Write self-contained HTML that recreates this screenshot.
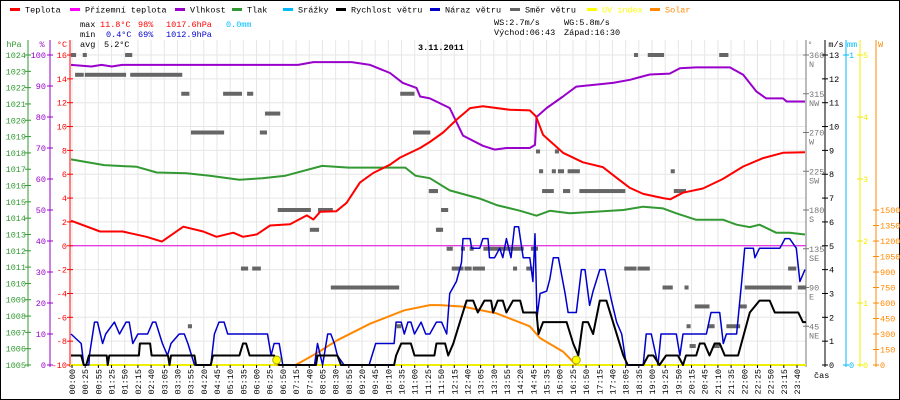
<!DOCTYPE html>
<html><head><meta charset="utf-8">
<style>
body{margin:0;background:#fff}
#wrap{position:relative;width:900px;height:400px;overflow:hidden;background:#fff}
svg{position:absolute;left:0;top:0}
text{font-family:"Liberation Mono","DejaVu Sans Mono",monospace;font-size:8.5px}
</style></head>
<body>
<div id="wrap">
<svg id="chart" width="900" height="400"></svg>
</div>
<script>
// ---- data (t = minutes since midnight) ----
const timeLabels=['00:00','00:25','00:55','01:25','01:50','02:15','02:40','03:05','03:30','03:55','04:20','04:45','05:10','05:35','06:00','06:25','06:50','07:15','07:40','08:05','08:30','08:55','09:20','09:45','10:10','10:35','11:00','11:25','11:50','12:15','12:40','13:05','13:30','13:55','14:20','14:45','15:35','16:00','16:25','16:50','17:15','17:40','18:05','18:35','19:00','19:25','19:50','20:15','20:45','21:10','21:35','22:00','22:25','22:50','23:15','23:40'];
const tempT=[0,57,101,148,178,220,259,285,318,337,364,390,429,462,475,488,520,540,566,592,625,645,684,703,729,756,782,807,860,899,911,925,964,1003,1042,1069,1095,1121,1160,1174,1199,1238,1277,1317,1356,1395,1438];
const tempV=[2.1,1.2,1.2,0.75,0.35,1.6,1.2,0.75,1.1,0.75,0.95,1.7,1.8,2.55,2.2,2.85,2.9,3.6,5.3,6.1,6.8,7.4,8.2,8.7,9.5,10.6,11.55,11.7,11.4,11.35,10.85,9.3,7.8,7.0,6.6,5.7,4.85,4.35,4.0,3.9,4.45,4.8,5.6,6.65,7.35,7.8,7.85];
const humT=[0,40,60,80,100,445,475,550,586,625,650,677,684,703,742,768,807,830,853,899,909,912,932,964,990,1062,1095,1134,1173,1193,1225,1291,1317,1343,1362,1395,1402,1438];
const humV=[96.8,96.3,96.8,96.3,96.8,96.8,97.7,97.7,96.8,94.2,91,89.4,86.6,86,82.9,74,70.7,69.5,70,70,71,80,82.9,86.6,89.8,91,92,93.7,94,95.7,96,96,93.6,88.2,86,86,85,85];
const presT=[0,65,129,168,226,272,330,375,420,492,544,596,655,675,703,742,801,834,880,912,938,977,1030,1082,1121,1160,1186,1225,1278,1304,1330,1349,1382,1408,1438];
const presV=[1017.6,1017.25,1017.15,1016.8,1016.75,1016.6,1016.35,1016.45,1016.6,1017.2,1017.1,1017.1,1017.1,1016.6,1016.45,1015.7,1015.2,1014.8,1014.45,1014.15,1014.45,1014.3,1014.4,1014.5,1014.7,1014.6,1014.3,1013.9,1013.9,1013.6,1013.45,1013.6,1013.1,1013.1,1013.0];
const windT=[0,20,25,30,35,70,72,75,133,135,155,158,190,193,196,242,245,274,278,330,337,343,350,398,408,480,483,522,529,633,637,647,666,673,712,716,733,739,749,762,775,788,797,810,823,827,836,846,853,866,880,886,912,916,925,971,984,994,1003,1013,1023,1036,1049,1062,1082,1091,1121,1131,1141,1153,1166,1189,1199,1205,1225,1232,1241,1251,1261,1271,1281,1307,1330,1349,1369,1379,1425,1434,1440];
const windV=[0.4,0.4,0,0,0.4,0.4,0,0.4,0.4,0.9,0.9,0.4,0.4,0,0.4,0.4,0,0,0.4,0.4,0.9,0.9,0.4,0.4,0,0,0.4,0.4,0,0,0.4,0.9,0.9,0.4,0.4,0.9,0.9,0.4,0.9,1.8,2.7,2.7,2.2,2.7,2.7,2.2,2.7,2.7,2.2,2.7,2.7,2.2,2.2,1.3,1.8,1.8,0.9,0.4,1.8,1.8,1.3,2.7,2.7,1.8,0.4,0,0,0.4,0.4,0,0.4,0.4,0,0.4,0.4,0.9,0.9,0.4,0.9,0.9,0.4,0.4,2.2,2.7,2.7,2.2,2.2,1.8,1.8];
const gustT=[0,20,25,35,36,46,52,62,68,85,95,108,114,121,131,150,160,166,179,189,196,212,222,229,242,274,281,290,300,307,385,392,398,408,415,477,483,493,503,509,516,522,535,584,597,633,637,647,653,660,666,673,686,695,703,716,726,736,742,755,765,768,782,785,801,807,817,820,830,840,846,853,862,869,877,886,899,905,909,913,919,932,938,945,955,968,974,990,1000,1007,1016,1023,1036,1046,1059,1069,1079,1088,1121,1127,1137,1150,1156,1186,1193,1199,1245,1254,1271,1278,1284,1304,1314,1320,1337,1340,1349,1389,1399,1408,1421,1428,1438];
const gustV=[1.3,0.9,0,0,0.4,1.8,1.8,0.9,1.3,1.8,1.3,1.8,1.8,0.9,1.3,1.3,1.8,1.8,0.9,0.4,0.9,1.3,1.3,0.9,0,0,1.3,1.8,1.8,1.3,1.3,0.4,0.9,0.9,0,0,0.9,0,1.3,1.3,0.9,0.4,0,0,0.9,0.9,1.8,1.8,1.3,1.8,1.8,1.3,1.8,1.3,1.3,1.8,1.8,1.3,3.0,3.5,4.3,5.3,5.3,4.9,4.9,5.3,5.3,4.5,4.5,4.9,4.5,5.3,4.5,5.8,5.8,4.5,4.5,3.5,5.5,2.0,3.0,3.1,3.6,4.5,4.5,3.0,2.2,2.2,4.0,4.0,2.5,3.1,4.0,4.0,2.7,1.8,1.3,0,0,1.3,1.3,0,1.3,1.3,0.4,1.3,1.3,2.2,2.2,0.9,1.3,1.3,3.5,4.9,4.9,4.5,4.9,4.9,5.3,5.3,4.9,3.5,4.0];
const solarT=[403,440,480,522,586,653,703,723,768,834,899,919,964,990];
const solarV=[0,0,110,240,400,530,580,580,565,500,375,260,130,0];
const dirStart=[0,23,106,8,27,116,216,298,345,380,235,370,645,670,701,405,484,468,717,333,355,509,229,638,1103,1130,1270,911,948,917,942,954,973,1175,703,923,964,996,1181,725,715,736,764,781,808,901,746,771,787,866,892,1084,1110,1405,1159,1202,1320,1424,1222,1310,1206,1247,1284,1212,1259];
const dirEnd=[10,31,120,25,108,218,232,335,357,410,300,384,673,704,719,470,513,486,725,347,372,643,237,647,1111,1162,1288,919,956,925,950,966,997,1183,717,946,978,1086,1205,739,729,748,771,789,887,915,769,785,811,874,904,1108,1134,1421,1179,1210,1412,1440,1251,1324,1214,1261,1311,1224,1271];
const dirDeg=[360,360,360,337,337,337,315,315,315,292,270,270,315,270,202,180,180,157,157,112,112,90,45,45,360,360,360,248,248,225,225,225,225,225,202,202,202,202,202,180,157,135,135,135,135,135,112,112,112,112,112,112,112,112,90,90,90,90,68,68,45,45,45,22,22];
const sunT=[403,990];
const tempTicks=[16,14,12,10,8,6,4,2,0,-2,-4,-6,-8,-10];
const humTicks=[100,90,80,70,60,50,40,30,20,10,0];
const presTicks=[1024,1023,1022,1021,1020,1019,1018,1017,1016,1015,1014,1013,1012,1011,1010,1009,1008,1007,1006,1005];
const msTicks=[13,12,11,10,9,8,7,6,5,4,3,2,1,0];
const dirTicks=[360,315,270,225,180,135,90,45];
const dirNames=['N','NW','W','SW','S','SE','E','NE'];
const uvTicks=[5,4,3,2,1,0];
const wTicks=[1500,1350,1200,1050,900,750,600,450,300,150,0];

// ---- scales ----
const X0=71,PX=0.5104,YT=55,YB=365,H=YB-YT;
const xT=t=>X0+t*PX;
const yTemp=v=>YT+(16-v)/26*H;
const yHum=v=>YB-v/100*H;
const yPres=v=>YT+(1024-v)/19*H;
const yMs=v=>YB-v/13*H;
const yDir=v=>YB-v/360*H;
const yUv=v=>YB-v/5*H;
const yW=v=>YB-v*0.1033;
const LX0=72,LX1=797;
const xLab=i=>LX0+i*(LX1-LX0)/(timeLabels.length-1);

const svg=document.getElementById('chart');
const NS='http://www.w3.org/2000/svg';
function mk(tag,attrs,parent){const e=document.createElementNS(NS,tag);for(const k in attrs)e.setAttribute(k,attrs[k]);(parent||svg).appendChild(e);return e;}
function txt(x,y,s,fill,anchor,parent){const e=mk('text',{x:x,y:y,fill:fill||'#000','text-anchor':anchor||'start'},parent);e.textContent=s;return e;}

const border=mk('rect',{x:0.5,y:0.5,width:899,height:399,fill:'none',stroke:'#000'});



// grid
const grid=mk('g',{});


timeLabels.forEach((l,i)=>{const x=xLab(i);mk('line',{x1:x,y1:40,x2:x,y2:YB,stroke:'#e6e6e6'},grid);});
tempTicks.forEach(v=>{const y=yTemp(v);mk('line',{x1:70,y1:y,x2:806,y2:y,stroke:'#e6e6e6'},grid);});
mk('line',{x1:70,y1:yTemp(0),x2:806,y2:yTemp(0),stroke:'#e000e0'},grid);

// legend
const legItems=[['Teplota','#f00',10],['Přízemní teplota','#f0f',70],['Vlhkost','#90c',175],['Tlak','#393',232],['Srážky','#0bf',283],['Rychlost větru','#000',336],['Náraz větru','#00c',430],['Směr větru','#666',510],['UV index','#ff0',587],['Solar','#f80',650]];
legItems.forEach(it=>{
 const g=mk('g',{});
 
 
 mk('rect',{x:it[2],y:8,width:10,height:3,fill:it[1]},g);
 txt(it[2]+15,12.5,it[0],(it[1]=='#ff0'||it[1]=='#f80')?it[1]:'#000','start',g);
});

// stats
const st=mk('g',{});


txt(80,27,'max',null,'start',st);txt(100,27,'11.8°C','#f00','start',st);txt(138,27,'98%','#f00','start',st);txt(166,27,'1017.6hPa','#f00','start',st);txt(226,27,'0.0mm','#0bf','start',st);
txt(80,37,'min',null,'start',st);txt(106,37,'0.4°C','#00c','start',st);txt(138,37,'69%','#00c','start',st);txt(166,37,'1012.9hPa','#00c','start',st);
txt(80,47,'avg',null,'start',st);txt(104,47,'5.2°C',null,'start',st);
txt(494,25,'WS:2.7m/s',null,'start',st);txt(564,25,'WG:5.8m/s',null,'start',st);
txt(494,35,'Východ:06:43',null,'start',st);txt(564,35,'Západ:16:30',null,'start',st);
const title=txt(418,50,'3.11.2011');title.setAttribute('font-weight','bold');title.setAttribute('font-size','12');



function vAxis(name,x,color,ticks,yf,labelX,unit,unitX){
 const g=mk('g',{});
 
 
 mk('line',{x1:x,y1:40,x2:x,y2:YB+2,stroke:color},g);
 ticks.forEach(v=>{const y=yf(v);mk('line',{x1:x-3,y1:y,x2:x+3,y2:y,stroke:color},g);txt(labelX,y+3,String(v),color,labelX<x?'end':'start',g);});
 txt(unitX,47,unit,color,'middle',g);
 return g;
}
vAxis('pressure-axis',28,'#393',presTicks,yPres,26,'hPa',14);
vAxis('humidity-axis',50,'#90c',humTicks,yHum,46,'%',42);
vAxis('temperature-axis',70,'#f00',tempTicks,yTemp,67,'°C',62);
const da=vAxis('direction-axis',806,'#777',dirTicks,yDir,809,'°',810);
dirTicks.forEach((v,i)=>txt(809,yDir(v)+12,dirNames[i],'#777','start',da));
vAxis('wind-speed-axis',825,'#000',msTicks,yMs,829,'m/s',836);
vAxis('rain-axis',846,'#0bf',[1,0],v=>YB-v*H,849,'mm',852);
vAxis('uv-axis',860,'#ee0',uvTicks,yUv,863,'',862);
const wa=mk('g',{});


mk('line',{x1:876,y1:40,x2:876,y2:YB+2,stroke:'#f80'},wa);
wTicks.forEach(v=>{const y=yW(v);mk('line',{x1:873,y1:y,x2:879,y2:y,stroke:'#f80'},wa);txt(880,y+3,String(v),'#f80','start',wa);});
txt(878,47,'W','#f80','start',wa);

// x axis
const xa=mk('g',{});


mk('line',{x1:70,y1:YB,x2:806,y2:YB,stroke:'#ee0','stroke-width':2},xa);
timeLabels.forEach((l,i)=>{const x=xLab(i);mk('line',{x1:x,y1:YB,x2:x,y2:YB+3,stroke:'#000'},xa);
 const t=txt(0,0,l,'#000','end',xa);t.setAttribute('font-size','8.5');t.setAttribute('transform','translate('+(x+3)+',369) rotate(-90)');});
txt(814,378,'čas','#000','start',xa);

// wind direction bars
const dg=mk('g',{});


dirStart.forEach((s,i)=>{const x1=xT(s),x2=xT(dirEnd[i]);const r=mk('rect',{x:x1,y:yDir(dirDeg[i])-2,width:Math.max(4,x2-x1),height:4,fill:'#666'},dg);
 
 });

function line(name,T,V,yf,color,w){
 const pts=T.map((t,i)=>xT(t).toFixed(1)+','+yf(V[i]).toFixed(1)).join(' ');
 const p=mk('polyline',{points:pts,fill:'none',stroke:color,'stroke-width':w||2,'stroke-linejoin':'round'});
 
 
}
line('solar-line',solarT,solarV,yW,'#f80',2);
line('pressure-line',presT,presV,yPres,'#393',2);
line('humidity-line',humT,humV,yHum,'#90c',2);
line('temperature-line',tempT,tempV,yTemp,'#f00',2);
line('wind-gust-line',gustT,gustV,yMs,'#00c',1.5);
line('wind-speed-line',windT,windV,yMs,'#000',2);
sunT.forEach(t=>{const c=mk('circle',{cx:xT(t),cy:YB-5,r:4,fill:'#ff0',stroke:'#aa0'});
 
 });
</script>
</body></html>
